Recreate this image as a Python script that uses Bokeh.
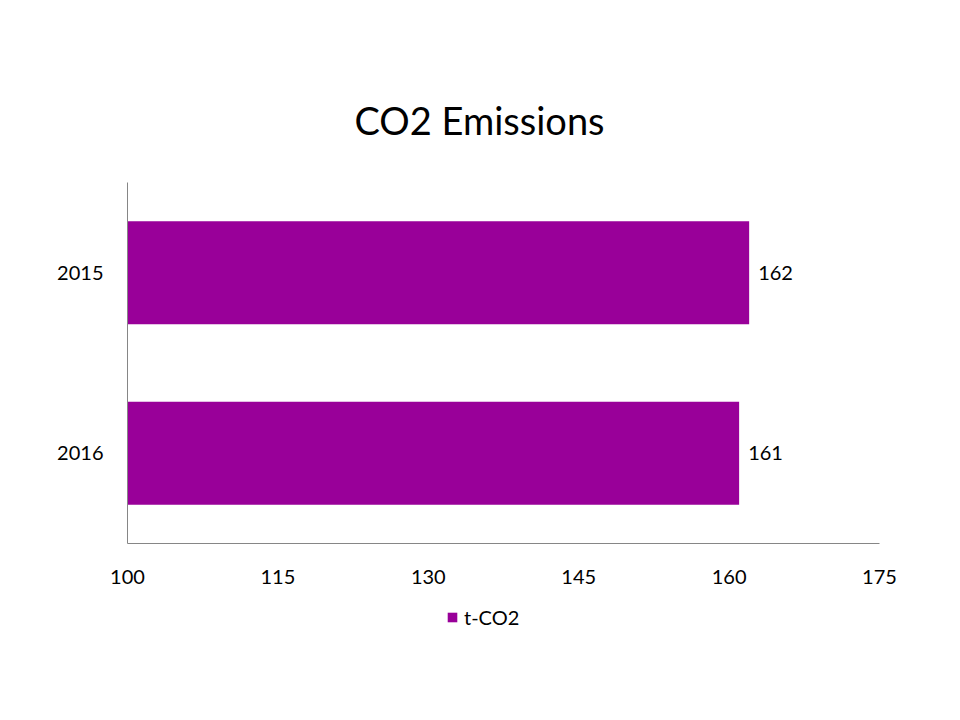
from bokeh.plotting import figure
from bokeh.layouts import column
from bokeh.models import (ColumnDataSource, FactorRange, Range1d, FixedTicker,
                          Legend, LegendItem, LabelSet)
from bokeh.core.properties import value
from bokeh.embed import file_html
from bokeh.resources import INLINE

years = ["2015", "2016"]
emissions = [162, 161]
labels = ["162", "161"]
x_ticks = [100, 115, 130, 145, 160, 175]
series_name = "t-CO2"
title_text = "CO2 Emissions"

FONT = "Lato"
BAR = "#990099"
AXIS = "#868686"

src = ColumnDataSource(dict(year=years, val=emissions, lab=labels, base=[x_ticks[0]] * len(years)))

p = figure(width=944, height=600, output_backend="svg", toolbar_location=None,
           y_range=FactorRange(factors=list(reversed(years)), range_padding=0),
           x_range=Range1d(x_ticks[0], x_ticks[-1]),
           min_border_left=127, min_border_right=65, min_border_top=182, min_border_bottom=57,
           title=title_text)
p.outline_line_color = None
p.xgrid.visible = False
p.ygrid.visible = False
p.background_fill_color = "white"
p.border_fill_color = "white"

p.title.text_font = FONT
p.title.text_font_size = "38px"
p.title.text_font_style = "normal"
p.title.text_color = "#000000"
p.title.align = "left"
p.title.offset = 227
p.title.standoff = 80

r = p.hbar(y="year", left="base", right="val", height=0.57, source=src,
           fill_color=BAR, line_color=None)

p.add_layout(LabelSet(x="val", y="year", text="lab", source=src, x_offset=9,
                      text_align="left", text_baseline="middle",
                      text_font=value(FONT), text_font_size="20px", text_color="#000000"))

p.xaxis.ticker = FixedTicker(ticks=x_ticks)
for ax in (p.xaxis[0], p.yaxis[0]):
    ax.axis_line_color = AXIS
    ax.axis_line_width = 1
    ax.major_tick_in = 0
    ax.major_tick_out = 0
    ax.minor_tick_in = 0
    ax.minor_tick_out = 0
    ax.major_label_text_font = FONT
    ax.major_label_text_font_size = "20px"
    ax.major_label_text_color = "#000000"
p.xaxis.major_label_standoff = 26
p.yaxis.major_label_standoff = 24

# legend strip below the chart (same series, drawn outside its visible range)
p2 = figure(width=944, height=104, output_backend="svg", toolbar_location=None,
            x_range=Range1d(2 * x_ticks[-1], 3 * x_ticks[-1]),
            y_range=FactorRange(factors=list(reversed(years))),
            min_border_left=127, min_border_right=65, min_border_top=0, min_border_bottom=0)
p2.axis.visible = False
p2.grid.visible = False
p2.outline_line_color = None
p2.background_fill_color = "white"
p2.border_fill_color = "white"
r2 = p2.hbar(y="year", left="base", right="val", height=0.0, source=src,
             fill_color=BAR, line_color=None)
legend = Legend(items=[LegendItem(label=series_name, renderers=[r2])],
                location=(319, 75), orientation="horizontal",
                label_text_font=FONT, label_text_font_size="20px", label_text_color="#000000",
                glyph_width=12, glyph_height=12, label_standoff=6,
                background_fill_alpha=0, border_line_color=None, padding=0, margin=0)
p2.add_layout(legend, "center")

layout = column(p, p2, spacing=0)
open("out.html", "w").write(file_html(layout, INLINE))
